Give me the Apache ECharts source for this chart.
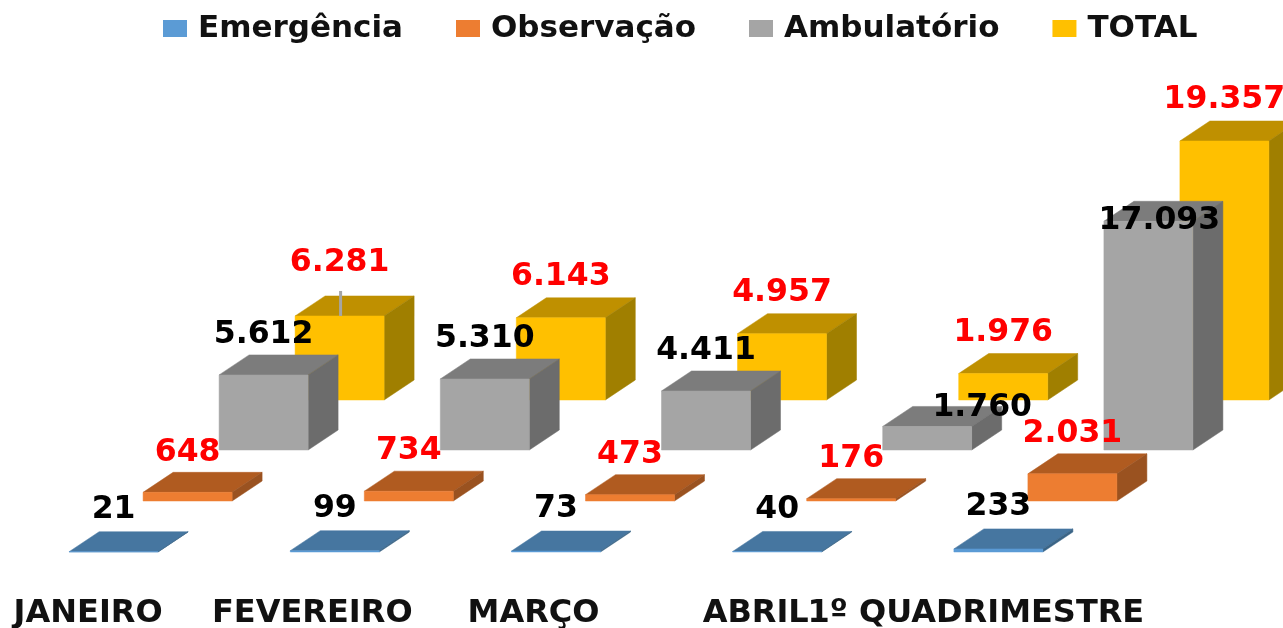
<!DOCTYPE html>
<html><head><meta charset="utf-8">
<style>html,body{margin:0;padding:0;background:#fff}#c{width:1283px;height:628px}</style>
<script src="https://cdn.jsdelivr.net/npm/echarts@6/dist/echarts.min.js"></script>
</head><body><div id="c"></div>
<script>
const categories = ['JANEIRO','FEVEREIRO','MARÇO','ABRIL','1º QUADRIMESTRE'];
const emergencia = [21,99,73,40,233];
const observacao = [648,734,473,176,2031];
const ambulatorio = [5612,5310,4411,1760,17093];
const total = [6281,6143,4957,1976,19357];

// drawing style tables (not data)
const seriesStyle = [
  {name:'Emergência', vals:emergencia, front:'#5B9BD5', top:'#4676A0', side:'#3A6486', dx:-19, dy:0,    label:'#000', z:4, ly:-42},
  {name:'Observação', vals:observacao, front:'#ED7D31', top:'#B05B20', side:'#9A5220', dx:55,  dy:-51,  label:'#f00', z:3, ly:-40},
  {name:'Ambulatório',vals:ambulatorio,front:'#A5A5A5', top:'#7C7C7C', side:'#6C6C6C', dx:131, dy:-102, label:'#000', z:2, ly:-40},
  {name:'TOTAL',      vals:total,      front:'#FFC000', top:'#BF9000', side:'#A07F00', dx:207, dy:-152, label:'#f00', z:1, ly:-41}
];
const barW = 89, depthX = 30, depthY = 20;
const labelNudge = {'Ambulatório|3':[55,21],'Ambulatório|4':[11,40],'TOTAL|0':[0,-12]};
const labelPad = [[0,0,0,0],[0,0,0,6],[0,0,0,6],[0,0,0,8],[0,0,0,6]];
const fmt = v => String(v).replace(/\B(?=(\d{3})+$)/g,'.');

function render(st){
  return function(params, api){
    const i = api.value(0), v = api.value(1);
    const p = api.coord([i, v]), b = api.coord([i, 0]);
    const l = p[0]+st.dx, r = l+barW, t = p[1]+st.dy, bt = b[1]+st.dy;
    const poly = (pts,c)=>({type:'polygon',shape:{points:pts},style:{fill:c,stroke:c,lineWidth:.5}});
    const kids = [
      poly([[l,t],[r,t],[r+depthX,t-depthY],[l+depthX,t-depthY]],st.top),
      poly([[r,t],[r+depthX,t-depthY],[r+depthX,bt-depthY],[r,bt]],st.side),
      poly([[l,t],[r,t],[r,bt],[l,bt]],st.front)
    ];
    const n = labelNudge[st.name+'|'+i] || [0,0];
    if(st.name==='TOTAL' && i===0){
      kids.push({type:'rect',shape:{x:l+44,y:t-25,width:3,height:25},style:{fill:'#A5A5A5'}});
    }
    kids.push({type:'text',style:{text:fmt(v),x:(l+r)/2+n[0],y:t+st.ly+n[1],align:'center',verticalAlign:'middle',
      font:'bold 31.5px "DejaVu Sans"',fill:st.label}});
    return {type:'group',children:kids};
  };
}

const chart = echarts.init(document.getElementById('c'),null,{renderer:'canvas'});
chart.setOption({
  animation:false,
  backgroundColor:'#fff',
  legend:{left:158,top:8,itemWidth:24,itemHeight:17,itemGap:53,icon:'rect',selectedMode:false,
    data:seriesStyle.map(s=>s.name),
    textStyle:{fontFamily:'DejaVu Sans',fontWeight:'bold',fontSize:31,color:'#111',padding:[0,0,0,6]}},
  grid:{left:-22.5,width:1106,top:284.4,height:267.6,outerBoundsMode:'none'},
  xAxis:{type:'category',
    data:categories.map((c,i)=>({value:c,textStyle:{padding:labelPad[i]}})),
    axisLine:{show:false},axisTick:{show:false},
    axisLabel:{interval:0,margin:46,fontFamily:'DejaVu Sans',fontWeight:'bold',fontSize:32,color:'#111',hideOverlap:false}},
  yAxis:{type:'value',min:0,max:20000,show:false,splitLine:{show:false}},
  series:seriesStyle.map(st=>({
    type:'custom',name:st.name,z:st.z,clip:false,
    itemStyle:{color:st.front},
    encode:{x:0,y:1},
    data:st.vals.map((v,i)=>[i,v]),
    renderItem:render(st)
  }))
});
</script></body></html>
